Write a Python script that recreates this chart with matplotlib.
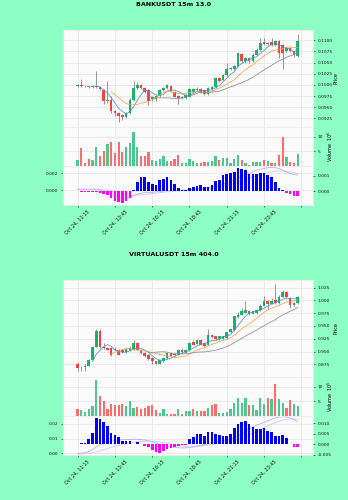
import numpy as np
import pandas as pd
import matplotlib
matplotlib.use("Agg")
import matplotlib.pyplot as plt
from matplotlib.ticker import MultipleLocator, FormatStrFormatter

BG = '#8effc4'
UP, DOWN = '#00b060', '#fe3032'
VUP, VDOWN = '#4dc790', '#fd6b6c'
MA_COLORS = ['#4f8fcf', '#f5a044', '#8c8c8c']
MA_WINDOWS = [5, 10, 20]

time_labels = ["Oct 24, 11:15", "Oct 24, 13:45", "Oct 24, 16:15",
               "Oct 24, 18:45", "Oct 24, 21:15", "Oct 24, 23:45", ""]
tick_pos = [0, 10, 20, 30, 40, 50, 60]

# ---- BANKUSDT ----
bank_open = [0.0998, 0.0999, 0.0998, 0.0997, 0.0996, 0.0996, 0.0996, 0.0989, 0.0963, 0.0967,
             0.0942, 0.0937, 0.0933, 0.0928, 0.0937, 0.0967, 0.0994, 0.1000, 0.0994, 0.0989,
             0.0968, 0.0968, 0.0976, 0.0989, 0.0994, 0.0998, 0.0985, 0.0975, 0.0971, 0.0971,
             0.0974, 0.0984, 0.0988, 0.0992, 0.0988, 0.0980, 0.0990, 0.0995, 0.1016, 0.1012,
             0.1023, 0.1035, 0.1035, 0.1042, 0.1070, 0.1053, 0.1061, 0.1053, 0.1068, 0.1079,
             0.1096, 0.1092, 0.1096, 0.1090, 0.1098, 0.1090, 0.1075, 0.1083, 0.1075, 0.1064]
bank_close = [0.0999, 0.0998, 0.0997, 0.0996, 0.0997, 0.0997, 0.0990, 0.0963, 0.0967, 0.0942,
              0.0937, 0.0930, 0.0928, 0.0937, 0.0967, 0.0994, 0.1000, 0.0993, 0.0985, 0.0963,
              0.0972, 0.0975, 0.0988, 0.0994, 0.1000, 0.0986, 0.0974, 0.0971, 0.0974, 0.0978,
              0.0990, 0.0991, 0.0992, 0.0985, 0.0980, 0.0993, 0.0995, 0.1016, 0.1008, 0.1023,
              0.1035, 0.1038, 0.1042, 0.1072, 0.1053, 0.1061, 0.1053, 0.1068, 0.1079, 0.1094,
              0.1092, 0.1094, 0.1090, 0.1098, 0.1072, 0.1072, 0.1083, 0.1075, 0.1066, 0.1098]
bank_high = [0.1002, 0.1014, 0.0999, 0.0998, 0.0998, 0.1032, 0.0997, 0.0990, 0.1008, 0.0975,
             0.0945, 0.0939, 0.0935, 0.0940, 0.0970, 0.1009, 0.1007, 0.1003, 0.0996, 0.0990,
             0.0975, 0.0978, 0.0990, 0.0996, 0.1003, 0.1000, 0.0987, 0.0977, 0.0976, 0.0980,
             0.0993, 0.0993, 0.0995, 0.0994, 0.0990, 0.0995, 0.0998, 0.1018, 0.1018, 0.1025,
             0.1049, 0.1040, 0.1045, 0.1074, 0.1072, 0.1063, 0.1063, 0.1072, 0.1082, 0.1105,
             0.1105, 0.1096, 0.1105, 0.1100, 0.1100, 0.1092, 0.1086, 0.1085, 0.1077, 0.1114]
bank_low = [0.0995, 0.0996, 0.0995, 0.0994, 0.0994, 0.0994, 0.0988, 0.0958, 0.0960, 0.0938,
            0.0930, 0.0916, 0.0922, 0.0925, 0.0935, 0.0965, 0.0990, 0.0990, 0.0982, 0.0955,
            0.0965, 0.0965, 0.0974, 0.0986, 0.0992, 0.0984, 0.0972, 0.0958, 0.0969, 0.0969,
            0.0972, 0.0982, 0.0986, 0.0983, 0.0977, 0.0978, 0.0988, 0.0993, 0.1006, 0.1010,
            0.1021, 0.1033, 0.1033, 0.1040, 0.1050, 0.1050, 0.1050, 0.1051, 0.1066, 0.1077,
            0.1090, 0.1090, 0.1088, 0.1088, 0.1060, 0.1035, 0.1073, 0.1073, 0.1063, 0.1062]
bank_vol = [2.0, 6.0, 1.1, 2.3, 2.0, 6.5, 3.4, 5.0, 7.6, 8.3,
            4.6, 8.2, 4.7, 6.5, 7.9, 11.5, 6.6, 3.4, 3.4, 4.8,
            2.2, 1.8, 2.3, 3.3, 1.6, 1.7, 2.4, 3.9, 1.1, 1.1,
            2.3, 1.6, 0.9, 0.9, 1.2, 1.3, 1.8, 3.5, 2.0, 2.7,
            2.7, 1.0, 2.3, 3.6, 2.2, 1.1, 0.5, 1.2, 1.3, 1.5,
            2.0, 1.7, 1.1, 0.9, 3.9, 9.8, 3.2, 1.3, 1.1, 4.2]
bank_hist = [0.0, -0.00002, -0.00003, -0.00004, -0.00005, -0.00006, -0.0001, -0.0002, -0.00025, -0.0004,
             -0.0006, -0.0007, -0.00075, -0.0006, -0.0004, 0.00005, 0.0006, 0.0009, 0.0009, 0.0006,
             0.00045, 0.0004, 0.0007, 0.0008, 0.0009, 0.0007, 0.00045, 0.0002, 0.0001, 0.0001,
             0.00023, 0.0003, 0.00034, 0.00038, 0.0003, 0.0003, 0.0004, 0.00066, 0.0007, 0.00105,
             0.0011, 0.0012, 0.00126, 0.0015, 0.0014, 0.00135, 0.0011, 0.0011, 0.0011, 0.0012,
             0.00115, 0.00105, 0.0009, 0.0006, 0.0002, 0.0001, -0.0001, -0.0002, -0.0003, -0.0003]
bank_macd = [0.0001, 0.0001, 0.0001, 0.0001, 0.0001, 0.0001, 0.0000, -0.0002, -0.0003, -0.0005,
             -0.0007, -0.0009, -0.0010, -0.0010, -0.0009, -0.0007, -0.0005, -0.0004, -0.0003, -0.0003,
             -0.0003, -0.0002, -0.0002, -0.0001, -0.0001, 0.0000, 0.0000, 0.0000, 0.0000, 0.0000,
             0.0000, 0.0001, 0.0001, 0.0002, 0.0002, 0.0003, 0.0004, 0.0005, 0.0006, 0.0007,
             0.0009, 0.0010, 0.0012, 0.0014, 0.0016, 0.0018, 0.0020, 0.0022, 0.0024, 0.0025,
             0.0026, 0.0027, 0.0027, 0.0027, 0.0026, 0.0024, 0.0022, 0.0020, 0.0019, 0.0018]
bank_signal = [0.0001, 0.0001, 0.0001, 0.0001, 0.0001, 0.0001, 0.0001, 0.0000, 0.0000, -0.0001,
               -0.0002, -0.0003, -0.0004, -0.0005, -0.0006, -0.0006, -0.0006, -0.0006, -0.0005, -0.0005,
               -0.0004, -0.0004, -0.0003, -0.0003, -0.0002, -0.0002, -0.0001, -0.0001, -0.0001, 0.0000,
               0.0000, 0.0000, 0.0001, 0.0001, 0.0001, 0.0002, 0.0002, 0.0003, 0.0004, 0.0005,
               0.0006, 0.0007, 0.0008, 0.0010, 0.0011, 0.0013, 0.0014, 0.0016, 0.0017, 0.0019,
               0.0020, 0.0021, 0.0022, 0.0023, 0.0023, 0.0023, 0.0022, 0.0022, 0.0021, 0.0020]

# ---- VIRTUALUSDT ----
virt_open = [0.8765, 0.8690, 0.8700, 0.8725, 0.8842, 0.9088, 0.9406, 0.9088, 0.9069, 0.9069,
             0.9049, 0.9036, 0.9023, 0.8984, 0.9023, 0.9036, 0.9166, 0.9036, 0.8971, 0.8939,
             0.8874, 0.8809, 0.8764, 0.8809, 0.8874, 0.8971, 0.8950, 0.8939, 0.9036, 0.8990,
             0.9023, 0.9179, 0.9153, 0.9231, 0.9166, 0.9134, 0.9328, 0.9296, 0.9244, 0.9244,
             0.9263, 0.9374, 0.9426, 0.9672, 0.9718, 0.9763, 0.9802, 0.9737, 0.9750, 0.9815,
             0.9900, 0.9997, 0.9932, 1.0010, 0.9945, 1.0075, 1.0159, 1.0042, 0.9913, 0.9945]
virt_close = [0.8680, 0.8700, 0.8712, 0.8842, 0.9088, 0.9393, 0.9088, 0.9062, 0.9036, 0.8926,
              0.9036, 0.8939, 0.8984, 0.9049, 0.9069, 0.9166, 0.9036, 0.8971, 0.8907, 0.8855,
              0.8809, 0.8764, 0.8829, 0.8874, 0.8971, 0.8920, 0.8930, 0.9036, 0.8990, 0.9023,
              0.9166, 0.9134, 0.9231, 0.9134, 0.9101, 0.9328, 0.9283, 0.9244, 0.9296, 0.9296,
              0.9374, 0.9439, 0.9685, 0.9718, 0.9802, 0.9815, 0.9737, 0.9783, 0.9815, 0.9900,
              0.9997, 0.9932, 0.9997, 0.9945, 1.0075, 1.0159, 1.0062, 0.9913, 0.9945, 1.0075]
virt_high = [0.8785, 0.8720, 0.8760, 0.8850, 0.9100, 0.9439, 0.9439, 0.9160, 0.9085, 0.9080,
             0.9080, 0.9050, 0.9040, 0.9060, 0.9110, 0.9231, 0.9180, 0.9050, 0.8985, 0.8950,
             0.8890, 0.8820, 0.8840, 0.8885, 0.8985, 0.8985, 0.8965, 0.9050, 0.9060, 0.9040,
             0.9180, 0.9231, 0.9250, 0.9245, 0.9180, 0.9439, 0.9340, 0.9310, 0.9310, 0.9300,
             0.9385, 0.9450, 0.9700, 0.9770, 0.9850, 0.9997, 0.9815, 0.9795, 0.9830, 0.9920,
             1.0088, 1.0010, 1.0050, 1.0321, 1.0100, 1.0200, 1.0175, 1.0060, 0.9960, 1.0090]
virt_low = [0.8620, 0.8610, 0.8620, 0.8715, 0.8830, 0.9080, 0.9075, 0.9050, 0.9020, 0.8915,
            0.9020, 0.8925, 0.8970, 0.8970, 0.9010, 0.9020, 0.9020, 0.8960, 0.8895, 0.8840,
            0.8760, 0.8750, 0.8750, 0.8800, 0.8860, 0.8910, 0.8905, 0.8930, 0.8960, 0.8980,
            0.9010, 0.9120, 0.9140, 0.9120, 0.9090, 0.9120, 0.9270, 0.9230, 0.9230, 0.9235,
            0.9250, 0.9360, 0.9410, 0.9660, 0.9705, 0.9750, 0.9720, 0.9725, 0.9740, 0.9800,
            0.9885, 0.9830, 0.9920, 0.9930, 0.9930, 1.0060, 1.0050, 0.9848, 0.9900, 0.9930]
virt_vol = [2.3, 1.9, 1.5, 2.3, 3.4, 12.3, 6.8, 5.0, 2.3, 4.0,
            3.6, 3.6, 4.2, 3.4, 5.0, 2.6, 3.2, 2.3, 2.8, 3.4,
            3.9, 2.0, 1.1, 2.3, 0.8, 0.6, 0.6, 2.3, 0.8, 1.7,
            1.7, 2.3, 1.7, 1.7, 1.7, 2.8, 3.6, 4.2, 1.1, 1.1,
            1.5, 2.3, 4.5, 6.3, 4.3, 6.0, 3.6, 3.6, 2.0, 6.3,
            4.0, 6.0, 5.7, 11.1, 5.7, 4.3, 2.8, 5.5, 4.0, 3.4]
virt_hist = [0.0, 0.0005, 0.0008, 0.0025, 0.0055, 0.0124, 0.0119, 0.0106, 0.0088, 0.0054,
             0.0046, 0.0036, 0.0017, 0.0016, 0.0014, 0.0001, 0.0011, 0.0, -0.0008, -0.0014,
             -0.0027, -0.0036, -0.0040, -0.0030, -0.0023, -0.0019, -0.0014, -0.0008, -0.0005, -0.0003,
             0.0025, 0.0034, 0.0050, 0.0048, 0.0042, 0.0059, 0.0059, 0.0048, 0.0044, 0.0039,
             0.0042, 0.0048, 0.0078, 0.0097, 0.0106, 0.0111, 0.0098, 0.0080, 0.0075, 0.0072,
             0.0077, 0.0064, 0.0059, 0.0042, 0.0042, 0.0044, 0.0031, 0.0001, -0.0011, -0.0011]
virt_macd = [0.0000, 0.0002, 0.0005, 0.0012, 0.0025, 0.0045, 0.0058, 0.0068, 0.0076, 0.0082,
             0.0087, 0.0090, 0.0092, 0.0093, 0.0094, 0.0095, 0.0095, 0.0093, 0.0090, 0.0085,
             0.0078, 0.0070, 0.0062, 0.0055, 0.0049, 0.0044, 0.0040, 0.0038, 0.0037, 0.0037,
             0.0040, 0.0045, 0.0050, 0.0055, 0.0060, 0.0066, 0.0072, 0.0077, 0.0082, 0.0086,
             0.0090, 0.0097, 0.0105, 0.0117, 0.0130, 0.0148, 0.0165, 0.0178, 0.0190, 0.0200,
             0.0210, 0.0220, 0.0230, 0.0238, 0.0245, 0.0247, 0.0245, 0.0238, 0.0228, 0.0215]
virt_signal = [-0.0005, -0.0004, -0.0003, 0.0000, 0.0004, 0.0010, 0.0017, 0.0025, 0.0033, 0.0041,
               0.0048, 0.0055, 0.0061, 0.0066, 0.0071, 0.0075, 0.0078, 0.0081, 0.0082, 0.0083,
               0.0082, 0.0080, 0.0077, 0.0073, 0.0069, 0.0064, 0.0060, 0.0055, 0.0051, 0.0047,
               0.0040, 0.0042, 0.0045, 0.0048, 0.0052, 0.0056, 0.0060, 0.0064, 0.0068, 0.0072,
               0.0076, 0.0080, 0.0086, 0.0093, 0.0102, 0.0112, 0.0124, 0.0137, 0.0150, 0.0162,
               0.0174, 0.0186, 0.0197, 0.0207, 0.0216, 0.0224, 0.0230, 0.0233, 0.0233, 0.0230]

W, H = 348.0, 500.0
X0, X1 = 62.7, 313.3
FS = 3.2


def rect(top, bottom):
    return [X0 / W, 1 - bottom / H, (X1 - X0) / W, (bottom - top) / H]


def style_ax(ax):
    ax.set_facecolor('#fafafa')
    for s in ax.spines.values():
        s.set_color('#ececec')
        s.set_linewidth(0.6)
    ax.grid(True, color='#e2e2e2', lw=0.5)
    ax.set_axisbelow(True)
    ax.tick_params(labelsize=FS, length=1.5, width=0.4, pad=1.5, colors='#101010')
    ax.set_xlim(-4.0, 63.2)
    ax.set_xticks(tick_pos)


def draw_chart(y_top, title, o, h, l, c, vol, vexp, hist, macd, signal, cfg):
    o, h, l, c = map(np.array, (o, h, l, c))
    x = np.arange(len(c))
    up = c >= o

    fig.text(0.5, 1 - (y_top - 25) / H, title, ha='center', va='center',
             fontsize=4.6, fontweight='bold')

    ax_p = fig.add_axes(rect(y_top, y_top + 96.5))
    ax_v = fig.add_axes(rect(y_top + 96.5, y_top + 136))
    ax_m = fig.add_axes(rect(y_top + 136, y_top + 175))
    for ax in (ax_p, ax_v, ax_m):
        style_ax(ax)

    # candles
    ax_p.vlines(x, l, h, color='#606060', lw=0.45, zorder=2)
    ax_p.bar(x, np.abs(c - o), bottom=np.minimum(o, c), width=0.7,
             color=np.where(up, UP, DOWN), alpha=0.9, zorder=3)
    for w, col in zip(MA_WINDOWS, MA_COLORS):
        ax_p.plot(x, pd.Series(c).rolling(w).mean(), color=col, lw=0.55, zorder=4)
    ax_p.set_ylim(*cfg['price_lim'])
    ax_p.yaxis.set_major_locator(MultipleLocator(cfg['price_step']))
    ax_p.yaxis.set_major_formatter(FormatStrFormatter(cfg['price_fmt']))
    ax_p.yaxis.tick_right()
    ax_p.set_ylabel('Price', fontsize=3.5)
    ax_p.yaxis.set_label_position('right')
    ax_p.yaxis.set_label_coords(1.079, 0.5)
    ax_p.tick_params(labelbottom=False)

    # volume
    ax_v.bar(x, vol, width=0.6, color=np.where(up, VUP, VDOWN), zorder=3)
    ax_v.set_ylim(0, 13.5)
    ax_v.set_yticks([5, 10])
    ax_v.yaxis.tick_right()
    ax_v.set_ylabel('Volume  $10^{%d}$' % vexp, fontsize=3.5)
    ax_v.yaxis.set_label_position('right')
    ax_v.yaxis.set_label_coords(1.05, 0.5)
    ax_v.tick_params(labelbottom=False)

    # macd
    ax_m.plot(x, macd, color='#a898e6', lw=0.55, alpha=0.8, zorder=2)
    ax_m.plot(x, signal, color='#c9b6ee', lw=0.55, alpha=0.8, zorder=2)
    ax_m.set_ylim(*cfg['macd_lim'])
    ax_m.yaxis.set_major_locator(MultipleLocator(cfg['macd_step']))
    ax_m.yaxis.set_major_formatter(FormatStrFormatter(cfg['macd_fmt']))
    ax_m.set_xticklabels(time_labels, rotation=45, fontsize=3.4)
    ax_h = ax_m.twinx()
    hist = np.array(hist)
    ax_h.bar(x, hist, width=0.7, color=np.where(hist >= 0, '#0000ff', '#ff00ff'), zorder=3)
    ax_h.set_ylim(*cfg['hist_lim'])
    ax_h.yaxis.set_major_locator(MultipleLocator(cfg['hist_step']))
    ax_h.yaxis.set_major_formatter(FormatStrFormatter(cfg['hist_fmt']))
    ax_h.tick_params(labelsize=FS, length=1.5, width=0.4, pad=1.5, colors='#101010')
    for s in ax_h.spines.values():
        s.set_visible(False)


fig = plt.figure(figsize=(W / 100, H / 100), dpi=100, facecolor=BG)

draw_chart(30, 'BANKUSDT 15m 13.0', bank_open, bank_high, bank_low, bank_close,
           bank_vol, 6, bank_hist, bank_macd, bank_signal,
           dict(price_lim=(0.0907, 0.1123), price_step=0.0025, price_fmt='%.4f',
                macd_lim=(-0.0018, 0.0029), macd_step=0.002, macd_fmt='%.3f',
                hist_lim=(-0.00088, 0.00162), hist_step=0.001, hist_fmt='%.3f'))

draw_chart(280, 'VIRTUALUSDT 15m 404.0', virt_open, virt_high, virt_low, virt_close,
           virt_vol, 5, virt_hist, virt_macd, virt_signal,
           dict(price_lim=(0.8511, 1.0399), price_step=0.025, price_fmt='%.3f',
                macd_lim=(-0.0011, 0.0252), macd_step=0.01, macd_fmt='%.2f',
                hist_lim=(-0.005, 0.0134), hist_step=0.005, hist_fmt='%.3f'))

fig.savefig('out.png', dpi=100, facecolor=BG)
